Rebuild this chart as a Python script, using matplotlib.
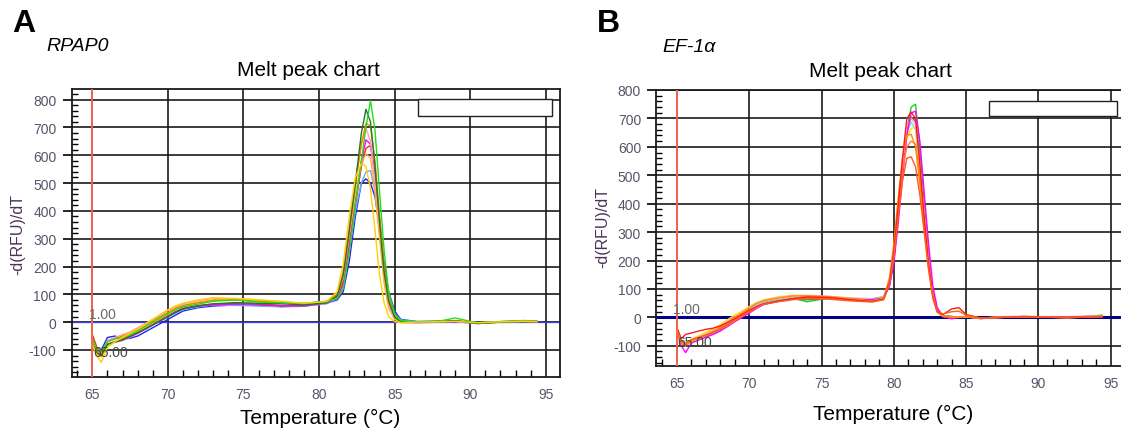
import matplotlib
matplotlib.use('Agg')
import matplotlib.pyplot as plt
from matplotlib.patches import Rectangle
from matplotlib.ticker import MultipleLocator

plt.rcParams['font.family'] = ['Liberation Sans', 'DejaVu Sans']
plt.rcParams['axes.unicode_minus'] = False

# temperature grid (degC)
tA = [65.0, 65.3, 65.6, 66.0, 66.5, 67.0, 67.5, 68.0, 68.5, 69.0, 69.5, 70.0, 70.5, 71.0,
      72.0, 73.0, 74.5, 76.0, 77.5, 79.0, 80.5, 81.2, 81.6, 82.0, 82.4, 82.8, 83.1, 83.4,
      83.7, 84.0, 84.3, 84.6, 85.0, 85.4, 86.5, 88.0, 89.0, 90.5, 92.0, 93.5, 94.4]

# RPAP0 melt peaks, -d(RFU)/dT
a_green = [-60, -95, -105, -70, -60, -55, -45, -30, -15, 0, 15, 30, 45, 55, 65, 75, 80, 72, 70, 68, 75,
           85, 120, 250, 420, 580, 700, 796, 690, 470, 260, 110, 30, 5, 2, 4, 15, -3, 2, 4, 3]
a_dkgreen = [-80, -110, -120, -80, -70, -62, -50, -38, -25, -10, 5, 20, 35, 48, 58, 66, 70, 68, 66, 62, 70,
             95, 170, 330, 500, 680, 765, 720, 560, 360, 180, 75, 18, 2, 0, 3, 5, -5, 0, 2, 1]
a_orange = [-70, -100, -115, -70, -60, -50, -40, -25, -10, 5, 20, 35, 50, 60, 70, 78, 80, 75, 70, 66, 74,
            100, 175, 330, 490, 640, 715, 705, 580, 390, 200, 85, 22, 3, 1, 2, 4, -2, 2, 5, 2]
a_pink = [-75, -105, -120, -65, -55, -45, -35, -20, -5, 10, 25, 42, 55, 65, 78, 85, 82, 78, 72, 68, 75,
          105, 190, 350, 510, 640, 698, 650, 500, 320, 160, 60, 12, 0, -3, 1, 2, -4, 0, 3, 0]
a_magenta = [-65, -110, -120, -80, -70, -62, -52, -40, -25, -10, 5, 20, 35, 48, 58, 62, 65, 66, 60, 58, 70,
             90, 150, 290, 440, 580, 655, 640, 520, 350, 180, 75, 20, 0, -2, 3, 2, -5, 0, 4, 2]
a_red = [-45, -90, -105, -80, -72, -65, -52, -38, -22, -8, 8, 22, 38, 50, 60, 65, 68, 64, 58, 60, 70,
         88, 140, 270, 420, 560, 625, 635, 540, 370, 200, 85, 22, 3, 0, 2, 4, -3, 1, 3, 2]
a_ltorange = [-85, -115, -125, -85, -70, -58, -48, -32, -18, -2, 12, 28, 44, 58, 72, 80, 85, 80, 74, 66, 72,
              95, 160, 310, 460, 570, 605, 590, 470, 300, 140, 50, 10, -2, 0, 2, 3, -3, 1, 2, 1]
a_yellow = [-80, -120, -145, -90, -70, -55, -40, -25, -8, 10, 28, 45, 58, 68, 80, 88, 85, 80, 75, 68, 74,
            110, 210, 380, 520, 570, 560, 480, 330, 170, 70, 20, 2, -2, 0, 2, 3, -2, 1, 3, 2]
a_ltblue = [-70, -100, -110, -80, -72, -65, -55, -40, -25, -10, 5, 18, 32, 45, 55, 62, 60, 58, 55, 57, 66,
            85, 130, 260, 400, 500, 540, 545, 470, 330, 190, 90, 30, 8, 2, 4, 5, -2, 2, 6, 4]
a_blue = [-75, -95, -100, -55, -50, -60, -58, -50, -35, -20, -5, 10, 25, 40, 52, 58, 62, 60, 56, 58, 68,
          80, 110, 220, 380, 500, 515, 500, 450, 340, 210, 110, 40, 10, 2, 3, 4, -3, 1, 4, 3]

# temperature grid (degC)
tB = [65.0, 65.3, 65.6, 66.0, 66.5, 67.0, 67.5, 68.0, 68.5, 69.0, 69.5, 70.0, 70.5, 71.0,
      72.0, 73.0, 74.0, 75.5, 77.0, 78.5, 79.3, 79.7, 80.0, 80.3, 80.6, 80.9, 81.2, 81.5,
      81.8, 82.1, 82.4, 82.7, 83.0, 83.4, 84.0, 84.5, 85.0, 86.0, 87.5, 89.0, 90.5, 92.0, 93.5, 94.4]

# EF-1a melt peaks
b_green = [-40, -85, -100, -80, -70, -62, -52, -38, -22, -5, 10, 25, 40, 52, 62, 68, 55, 68, 66, 65, 72,
           115, 200, 350, 520, 660, 740, 750, 600, 400, 220, 90, 25, 6, 3, 1, 2, -4, 1, 3, 2, 0, 4, 8]
b_magenta = [-50, -100, -124, -90, -80, -70, -60, -48, -32, -15, 0, 15, 32, 45, 58, 65, 68, 66, 64, 62, 68,
             110, 190, 330, 490, 640, 720, 725, 620, 440, 260, 110, 35, 3, -5, 0, 3, -4, 1, 3, 0, 1, 3, 2]
b_red = [-35, -75, -60, -55, -48, -42, -38, -30, -18, -5, 10, 25, 38, 48, 58, 66, 72, 70, 62, 56, 64,
         125, 230, 390, 560, 700, 722, 700, 540, 350, 190, 75, 20, 10, 30, 34, 10, -2, 0, 2, 1, 0, 2, 3]
b_ltblue = [-45, -85, -95, -82, -72, -62, -52, -38, -22, -6, 10, 26, 42, 52, 62, 70, 72, 72, 68, 66, 74,
            130, 230, 380, 530, 650, 687, 660, 520, 350, 190, 78, 22, 4, 2, 1, 3, -2, 1, 2, 1, 0, 2, 3]
b_orange = [-50, -90, -100, -85, -75, -62, -50, -35, -18, 0, 15, 32, 48, 58, 68, 75, 76, 73, 66, 58, 68,
            140, 260, 420, 560, 640, 644, 600, 470, 310, 170, 65, 18, 3, 2, 0, 2, -4, 0, 2, 1, -2, 2, 4]
b_yellow = [-55, -90, -100, -78, -65, -52, -40, -25, -8, 8, 22, 38, 52, 62, 72, 78, 76, 72, 68, 62, 70,
            125, 225, 370, 520, 630, 665, 669, 530, 360, 200, 80, 22, 3, 1, 2, 3, -2, 1, 3, 2, 0, 3, 4]
b_pink = [-48, -88, -98, -80, -70, -58, -45, -30, -14, 2, 18, 35, 50, 60, 70, 76, 78, 74, 68, 62, 70,
          120, 220, 370, 530, 670, 700, 680, 540, 360, 200, 82, 24, 4, 2, 1, 2, -3, 2, 4, 1, 2, 5, 3]
b_redlow = [-42, -82, -92, -78, -70, -62, -52, -40, -25, -10, 5, 20, 35, 46, 55, 62, 66, 64, 58, 54, 62,
            120, 215, 350, 480, 560, 565, 530, 430, 300, 170, 72, 22, 12, 20, 22, 8, -2, 0, 2, 1, 0, 2, 3]
b_coral = [-45, -85, -95, -80, -72, -64, -54, -42, -28, -12, 4, 20, 36, 48, 58, 66, 70, 68, 62, 56, 66,
           125, 230, 380, 520, 600, 620, 610, 500, 340, 185, 75, 22, 5, 3, 1, 2, -3, 0, 2, 1, -1, 2, 3]
b_dkgreen = [-40, -80, -95, -82, -74, -66, -56, -44, -30, -14, 2, 18, 34, 46, 56, 64, 62, 66, 64, 62, 68,
             115, 205, 360, 520, 660, 705, 690, 560, 380, 210, 85, 26, 6, 3, 1, 2, -3, 1, 3, 2, 0, 3, 5]

curvesA = [(a_blue, '#2222ff'), (a_ltblue, '#6fa8ff'), (a_red, '#ff2020'), (a_magenta, '#ff00ff'),
           (a_pink, '#ff9fb0'), (a_ltorange, '#ffb040'), (a_orange, '#ff8000'), (a_dkgreen, '#1f7a1f'),
           (a_green, '#22dd22'), (a_yellow, '#ffd000')]
curvesB = [(b_green, '#22cc22'), (b_dkgreen, '#3a9a3a'), (b_ltblue, '#87cefa'), (b_yellow, '#ffe000'),
           (b_pink, '#ffa0c0'), (b_magenta, '#ff00ff'), (b_coral, '#ff7f3f'), (b_orange, '#ff8c00'),
           (b_red, '#ff1a1a'), (b_redlow, '#ff5a1f')]

tickcol = '#55556a'


def panel(ax, t, curves, xlim, ylim, zline, box, pad_x, pad_y):
    for y, c in curves:
        ax.plot(t, y, color=c, lw=1.0, zorder=3)
    ax.set_xlim(*xlim)
    ax.set_ylim(*ylim)
    ax.xaxis.set_major_locator(MultipleLocator(5))
    ax.xaxis.set_minor_locator(MultipleLocator(1))
    ax.yaxis.set_major_locator(MultipleLocator(100))
    ax.yaxis.set_minor_locator(MultipleLocator(20))
    ax.grid(True, which='major', color='#1a1a1a', lw=1.2, zorder=1)
    ax.tick_params(axis='x', which='major', length=0, pad=pad_x, labelsize=10, labelcolor=tickcol)
    ax.tick_params(axis='x', which='minor', direction='in', length=5, width=1, color='black')
    ax.tick_params(axis='y', which='major', direction='out', length=6.5, width=1.2, pad=pad_y,
                   labelsize=10, labelcolor=tickcol)
    ax.tick_params(axis='y', which='minor', direction='in', length=4.5, width=1, color='black')
    for s in ax.spines.values():
        s.set_color('#1a1a1a')
        s.set_linewidth(1.3)
    ax.axvline(65, color='#ff6a50', lw=1.3, zorder=4)
    ax.axhline(0, color=zline[0], lw=zline[1], zorder=2)
    ax.add_patch(Rectangle((box[0], box[2]), box[1] - box[0], box[3] - box[2],
                           facecolor='white', edgecolor='#222222', lw=1.0, zorder=6))


fig = plt.figure(figsize=(11.21, 4.31), dpi=100)

axA = fig.add_axes([0.0640, 0.1237, 0.4356, 0.6675])
panel(axA, tA, curvesA, (63.64, 95.94), (-196, 838), ('#3a3aff', 0.9),
      (86.57, 95.44, 741, 803), 7.5, 4.5)
axA.text(64.78, 28, '1.00', color='#6a6a6a', fontsize=10, va='center', zorder=7)
axA.text(65.05, -106, '65.00', color='#444444', fontsize=10, va='center', zorder=7)

axB = fig.add_axes([0.5849, 0.1485, 0.4151, 0.6404])
panel(axB, tB, curvesB, (63.53, 95.71), (-171, 800), ('#00008b', 2.2),
      (86.6, 95.43, 707, 762), 7, 4)
axB.spines['right'].set_visible(False)
axB.text(64.72, 28, '1.00', color='#6a6a6a', fontsize=10, va='center', zorder=7)
axB.text(65.0, -85, '65.00', color='#444444', fontsize=10, va='center', zorder=7)

# panel letters, gene names, titles
fig.text(0.0214, 0.9443, 'A', fontsize=23, fontweight='bold', ha='center', va='center')
fig.text(0.5424, 0.9443, 'B', fontsize=23, fontweight='bold', ha='center', va='center')
fig.text(0.041, 0.891, 'RPAP0', fontsize=14, style='italic', ha='left', va='center')
fig.text(0.5905, 0.889, 'EF-1α', fontsize=14, style='italic', ha='left', va='center')
fig.text(0.2748, 0.8353, 'Melt peak chart', fontsize=15, ha='center', va='center')
fig.text(0.785, 0.835, 'Melt peak chart', fontsize=15, ha='center', va='center')
fig.text(0.2855, 0.0302, 'Temperature (°C)', fontsize=15, ha='center', va='center')
fig.text(0.7966, 0.0394, 'Temperature (°C)', fontsize=15, ha='center', va='center')
fig.text(0.016, 0.4548, '-d(RFU)/dT', fontsize=11.5, rotation=90, color='#4b3358',
         ha='center', va='center')
fig.text(0.538, 0.471, '-d(RFU)/dT', fontsize=11.5, rotation=90, color='#4b3358',
         ha='center', va='center')

fig.savefig('out.png', dpi=100)
